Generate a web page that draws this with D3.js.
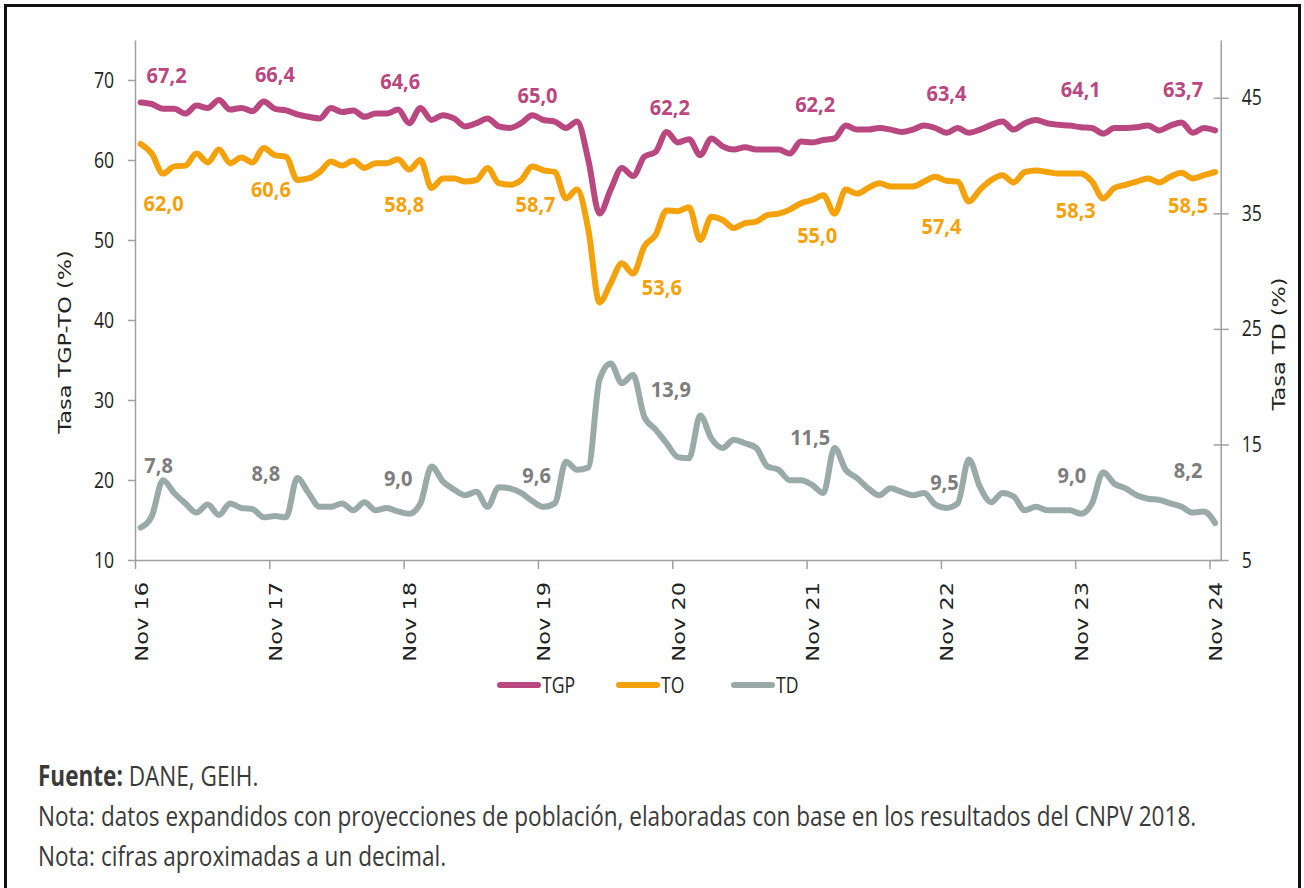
<!DOCTYPE html>
<html>
<head>
<meta charset="utf-8">
<script src="https://cdn.jsdelivr.net/npm/d3@7"></script>
<style>
  body { margin: 0; background: #fff; }
  svg { display: block; }
</style>
</head>
<body>
<svg id="chart" width="1304" height="888"></svg>
<script>
// monthly categories, Nov 2016 .. Nov 2024
const months = d3.timeMonth.range(new Date(2016, 10, 1), new Date(2024, 11, 1));
const tickLabels = ["Nov 16", "Nov 17", "Nov 18", "Nov 19", "Nov 20", "Nov 21", "Nov 22", "Nov 23", "Nov 24"];
const leftTicks = [10, 20, 30, 40, 50, 60, 70];
const rightTicks = [5, 15, 25, 35, 45];

// TGP (%) left axis
const tgp = [
  67.2, 67.0, 66.4, 66.4, 65.8, 66.8, 66.5, 67.5, 66.3, 66.5, 66.1, 67.3,
  66.4, 66.2, 65.7, 65.4, 65.2, 66.5, 66.0, 66.2, 65.4, 65.8, 65.8, 66.3,
  64.6, 66.5, 65.0, 65.6, 65.2, 64.2, 64.6, 65.2, 64.2, 64.0, 64.6, 65.6,
  65.0, 64.8, 64.0, 64.8, 60.0, 53.3, 56.3, 59.0, 58.0, 60.4, 61.0, 63.5,
  62.2, 62.6, 60.6, 62.7, 61.7, 61.3, 61.6, 61.3, 61.3, 61.3, 60.8, 62.3,
  62.2, 62.5, 62.7, 64.3, 63.8, 63.8, 64.0, 63.8, 63.5, 63.8, 64.3, 64.0,
  63.4, 64.0, 63.4, 63.8, 64.4, 64.8, 63.8, 64.6, 65.0, 64.6, 64.4, 64.3,
  64.1, 64.0, 63.3, 64.0, 64.0, 64.1, 64.3, 63.7, 64.3, 64.7, 63.4, 64.0,
  63.7
];

// TO (%) left axis
const to = [
  62.0, 60.8, 58.3, 59.2, 59.3, 60.8, 59.7, 61.3, 59.6, 60.3, 59.7, 61.5,
  60.6, 60.4, 57.5, 57.7, 58.5, 59.8, 59.3, 59.9, 59.0, 59.6, 59.6, 60.1,
  58.8, 60.0, 56.5, 57.7, 57.7, 57.3, 57.5, 59.0, 57.1, 56.9, 57.5, 59.2,
  58.7, 58.5, 55.2, 56.3, 51.3, 42.2, 44.6, 47.1, 45.8, 49.2, 50.6, 53.7,
  53.6, 54.1, 50.0, 52.9, 52.5, 51.5, 52.1, 52.3, 53.1, 53.3, 53.8, 54.6,
  55.0, 55.6, 53.3, 56.3, 55.8, 56.5, 57.1, 56.7, 56.7, 56.7, 57.3, 57.9,
  57.4, 57.3, 54.8, 56.3, 57.5, 58.1, 57.2, 58.5, 58.7, 58.5, 58.3, 58.3,
  58.3, 57.3, 55.2, 56.5, 56.9, 57.3, 57.7, 57.2, 57.9, 58.4, 57.7, 58.1,
  58.5
];

// TD (%) right axis
const td = [
  7.8, 8.8, 11.9, 10.8, 9.9, 9.1, 9.8, 8.9, 9.9, 9.5, 9.4, 8.7,
  8.8, 8.7, 12.1, 10.8, 9.6, 9.6, 9.9, 9.3, 10.0, 9.3, 9.5, 9.2,
  9.0, 9.9, 13.1, 11.8, 11.1, 10.6, 10.9, 9.6, 11.3, 11.2, 10.8, 10.1,
  9.6, 9.9, 13.5, 12.8, 13.0, 20.6, 22.0, 20.3, 21.0, 17.4, 16.3, 15.1,
  13.9, 13.8, 17.5, 15.5, 14.7, 15.4, 15.1, 14.7, 13.1, 12.8, 11.9, 11.9,
  11.5, 10.8, 14.7, 12.8, 12.1, 11.2, 10.6, 11.2, 10.9, 10.6, 10.8, 9.8,
  9.5, 9.9, 13.7, 11.3, 10.0, 10.8, 10.5, 9.3, 9.6, 9.3, 9.3, 9.3,
  9.0, 9.9, 12.6, 11.6, 11.2, 10.6, 10.3, 10.2, 9.9, 9.6, 9.1, 9.2,
  8.2
];

const footnotes = [
  "Nota: datos expandidos con proyecciones de población, elaboradas con base en los resultados del CNPV 2018.",
  "Nota: cifras aproximadas a un decimal."
];

// label placement (px offsets from the November point)
const tgpLabelOff = [[26,-27],[0,-35],[-9,-42],[-6,-25],[-8,-35],[3,-38],[0,-40],[0,-38],[-32,-41]];
const toLabelOff  = [[23,59],[-4,34],[-5,34],[-8,34],[-16,76],[5,35],[-5,45],[-5,36],[-27,33]];
const tdLabelOff  = [[18,-63],[-9,-43],[-11,-36],[-7,-32],[-7,-68],[-2,-48],[-2,-26],[-9,-39],[-27,-53]];

const colTGP = "#b8487f", colTO = "#f4a20c", colTD = "#9aaaa8", colTDlab = "#7d7d7d";
const SX = 0.8;   // the source picture is horizontally compressed

const svg = d3.select("#chart");

// squeeze text horizontally around its own anchor
function squeeze(sel, sx) {
  sel.each(function () {
    const t = d3.select(this);
    const tx = +t.attr("x") || 0, ty = +t.attr("y") || 0;
    t.attr("x", 0).attr("y", 0)
      .attr("transform", `translate(${tx},${ty}) scale(${sx},1)`);
  });
}

// frame
svg.append("rect")
  .attr("x", 5.5).attr("y", 5.5)
  .attr("width", 1294).attr("height", 900)
  .attr("fill", "none").attr("stroke", "#111").attr("stroke-width", 3);

const x = d3.scaleLinear().domain([0, months.length]).range([135, 1220.7]);
const yL = d3.scaleLinear().domain([10, 75]).range([560, 40]);
const yR = d3.scaleLinear().domain([5, 50]).range([560, 40]);
const xc = i => x(i + 0.5);

const axisCol = "#a0a0a0";

// left axis
const gL = svg.append("g").attr("transform", "translate(135,0)")
  .call(d3.axisLeft(yL).tickValues(leftTicks).tickSize(7).tickSizeOuter(0).tickPadding(14));
gL.select(".domain").attr("stroke", axisCol).attr("stroke-width", 1.5);
gL.selectAll(".tick line").attr("stroke", axisCol).attr("stroke-width", 1.5);
gL.selectAll(".tick text").attr("font-family", "Open Sans").attr("font-size", 22).attr("fill", "#222")
  .call(squeeze, SX);

// right axis
const gR = svg.append("g").attr("transform", "translate(1220.7,0)")
  .call(d3.axisRight(yR).tickValues(rightTicks).tickSize(8).tickSizeOuter(0).tickPadding(13));
gR.select(".domain").attr("stroke", axisCol).attr("stroke-width", 1.5);
gR.selectAll(".tick line").attr("x1", -7).attr("stroke", axisCol).attr("stroke-width", 1.5);
gR.selectAll(".tick text").attr("font-family", "Open Sans").attr("font-size", 22).attr("fill", "#222")
  .call(squeeze, SX);

// bottom axis
const gB = svg.append("g").attr("transform", "translate(0,560)")
  .call(d3.axisBottom(x)
    .tickValues(d3.range(0, months.length, 12))
    .tickFormat((d, i) => tickLabels[i])
    .tickSize(9).tickSizeOuter(0));
gB.select(".domain").attr("stroke", axisCol).attr("stroke-width", 1.5);
gB.selectAll(".tick line").attr("stroke", axisCol).attr("stroke-width", 1.5);
gB.selectAll(".tick text")
  .attr("font-family", "DejaVu Sans").attr("font-size", 22.5).attr("fill", "#222")
  .attr("text-anchor", "end").attr("x", 0).attr("y", 0).attr("dy", 0)
  .attr("transform", `translate(12,22) scale(${SX},1) rotate(-90)`);

// axis titles
svg.append("text")
  .attr("transform", `translate(71,342) scale(${SX},1) rotate(-90)`)
  .attr("text-anchor", "middle")
  .attr("font-family", "DejaVu Sans").attr("font-size", 22.4).attr("fill", "#222")
  .text("Tasa TGP-TO (%)");
svg.append("text")
  .attr("transform", `translate(1285,344) scale(${SX},1) rotate(-90)`)
  .attr("text-anchor", "middle")
  .attr("font-family", "DejaVu Sans").attr("font-size", 22.4).attr("fill", "#222")
  .text("Tasa TD (%)");

// lines
const series = [
  { key: "TGP", values: tgp, y: yL, color: colTGP, labCol: colTGP, off: tgpLabelOff },
  { key: "TO",  values: to,  y: yL, color: colTO,  labCol: colTO,  off: toLabelOff },
  { key: "TD",  values: td,  y: yR, color: colTD,  labCol: colTDlab, off: tdLabelOff }
];

series.forEach(s => {
  const line = d3.line().x((d, i) => xc(i)).y(d => s.y(d)).curve(d3.curveMonotoneX);
  svg.append("path")
    .datum(s.values)
    .attr("d", line)
    .attr("fill", "none")
    .attr("stroke", s.color)
    .attr("stroke-width", 6)
    .attr("stroke-linejoin", "round")
    .attr("stroke-linecap", "round");
});

const fmt = v => d3.format(".1f")(v).replace(".", ",");

// data labels on each November
series.forEach(s => {
  const idx = d3.range(0, months.length, 12);
  svg.append("g").selectAll("text")
    .data(idx)
    .join("text")
    .attr("x", (d, k) => xc(d) + s.off[k][0])
    .attr("y", (d, k) => s.y(s.values[d]) + s.off[k][1])
    .attr("dy", "0.36em")
    .attr("text-anchor", "middle")
    .attr("font-family", "Open Sans").attr("font-weight", 700).attr("font-size", 22)
    .attr("fill", s.labCol)
    .text(d => fmt(s.values[d]))
    .call(squeeze, 0.91);
});

// legend
const legend = svg.append("g").attr("transform", "translate(497,685)");
const legX = [0, 119, 234];
series.forEach((s, k) => {
  const g = legend.append("g").attr("transform", `translate(${legX[k]},0)`);
  g.append("line").attr("x1", 3).attr("x2", 41).attr("y1", 0).attr("y2", 0)
    .attr("stroke", s.color).attr("stroke-width", 6).attr("stroke-linecap", "round");
  g.append("text").attr("x", 45).attr("y", 0).attr("dy", "0.36em")
    .attr("font-family", "Open Sans").attr("font-size", 22).attr("fill", "#222")
    .text(s.key)
    .call(squeeze, SX);
});

// footnotes
const FX = 0.806;
const foot = svg.append("g").attr("font-family", "Open Sans").attr("fill", "#3a3a3a").attr("font-size", 28);
const src = foot.append("text").attr("transform", `translate(38,786) scale(${FX},1)`);
src.append("tspan").attr("font-weight", 700).text("Fuente:");
src.append("tspan").text(" DANE, GEIH.");
footnotes.forEach((t, k) => {
  foot.append("text").attr("transform", `translate(38,${826 + k * 40}) scale(${FX},1)`).text(t);
});
</script>
</body>
</html>
